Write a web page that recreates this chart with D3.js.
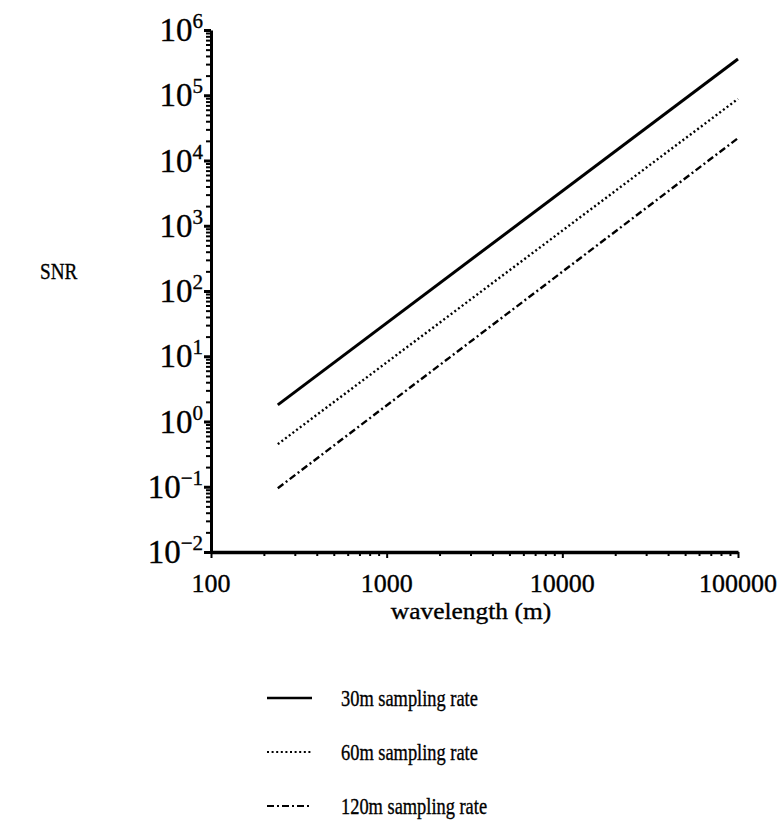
<!DOCTYPE html>
<html>
<head>
<meta charset="utf-8">
<script src="https://cdn.jsdelivr.net/npm/d3@7"></script>
<style>
  html, body { margin: 0; padding: 0; background: #fff; }
  svg { display: block; }
  text { font-family: "Liberation Serif", "Times New Roman", serif; fill: #000; stroke: #000; stroke-width: 0.35px; }
</style>
</head>
<body>
<script>
// Wavelength samples (m) at which each curve is given
const wavelengths = [240, 100000];
// SNR for each sampling rate at those wavelengths
const snr30 = [1.8, 360000];
const snr60 = [0.45, 88000];
const snr120 = [0.095, 22000];

const seriesNames = ["30m sampling rate", "60m sampling rate", "120m sampling rate"];
const seriesValues = [snr30, snr60, snr120];
const seriesDash = [null, "2,2.6", "7,3,2,3"];
const seriesWidth = [3, 2.4, 2.4];

const xTickValues = [100, 1000, 10000, 100000];
const xTickLabels = ["100", "1000", "10000", "100000"];
const yExponents = [-2, -1, 0, 1, 2, 3, 4, 5, 6];

const W = 780, H = 831;
const svg = d3.select("body").append("svg").attr("width", W).attr("height", H);

const x = d3.scaleLog().domain([100, 100000]).range([211, 738]);
const y = d3.scaleLog().domain([0.01, 1e6]).range([552, 30]);

// minor + major tick positions for a log axis
function logTicks(lo, hi) {
  const out = [];
  for (let e = lo; e < hi; e++) for (let m = 1; m < 10; m++) out.push(m * Math.pow(10, e));
  out.push(Math.pow(10, hi));
  return out;
}
const isMajor = v => Math.abs(Math.log10(v) - Math.round(Math.log10(v))) < 1e-9;

// y axis
const yAxis = d3.axisLeft(y).tickValues(logTicks(-2, 6)).tickFormat("").tickSizeOuter(0);
const gy = svg.append("g").attr("transform", `translate(${x(100)},0)`).call(yAxis);
gy.select(".domain").attr("stroke", "#000").attr("stroke-width", 3);
gy.selectAll(".tick line").attr("stroke", "#000")
  .attr("stroke-width", d => isMajor(d) ? 3 : 2)
  .attr("x2", d => isMajor(d) ? -7 : -5);

// x axis
const xAxis = d3.axisBottom(x).tickValues(logTicks(2, 5)).tickFormat("").tickSizeOuter(0);
const gx = svg.append("g").attr("transform", `translate(0,${y(0.01)})`).call(xAxis);
gx.select(".domain").attr("stroke", "#000").attr("stroke-width", 3.4);
gx.selectAll(".tick line").attr("stroke", "#000")
  .attr("stroke-width", 2)
  .attr("y2", d => isMajor(d) ? 6 : 4);

// y tick labels: 10^n
const yl = svg.append("g").selectAll("text").data(yExponents).join("text")
  .attr("x", 203)
  .attr("y", d => y(Math.pow(10, d)) + 11)
  .attr("text-anchor", "end")
  .style("font-size", "33px");
yl.append("tspan").text("10");
yl.append("tspan").attr("dy", -13).style("font-size", "21px")
  .text(d => d < 0 ? "\u2212" + (-d) : String(d));

// x tick labels
svg.append("g").selectAll("text").data(xTickValues).join("text")
  .attr("x", d => x(d))
  .attr("y", 592)
  .attr("text-anchor", "middle")
  .style("font-size", "26px")
  .text((d, i) => xTickLabels[i]);

// axis titles
svg.append("text").attr("transform", "translate(471,619) scale(1.06,1)")
  .attr("text-anchor", "middle")
  .style("font-size", "24px").text("wavelength (m)");
svg.append("text").attr("transform", "translate(40,279) scale(0.8,1)")
  .style("font-size", "24px").text("SNR");

// curves
const line = d3.line().x(d => x(d[0])).y(d => y(d[1]));
seriesValues.forEach((vals, i) => {
  svg.append("path")
    .datum(wavelengths.map((w, j) => [w, vals[j]]))
    .attr("d", line)
    .attr("fill", "none")
    .attr("stroke", "#000")
    .attr("stroke-width", seriesWidth[i])
    .attr("stroke-dasharray", seriesDash[i]);
});

// legend
const legendY = [698, 752, 806];
seriesNames.forEach((name, i) => {
  svg.append("line")
    .attr("x1", 267).attr("x2", 312)
    .attr("y1", legendY[i]).attr("y2", legendY[i])
    .attr("stroke", "#000")
    .attr("stroke-width", i === 0 ? 2.4 : 2)
    .attr("stroke-dasharray", seriesDash[i]);
  svg.append("text")
    .attr("transform", `translate(341,${legendY[i] + 8}) scale(0.8,1)`)
    .style("font-size", "23px")
    .text(name);
});
</script>
</body>
</html>
